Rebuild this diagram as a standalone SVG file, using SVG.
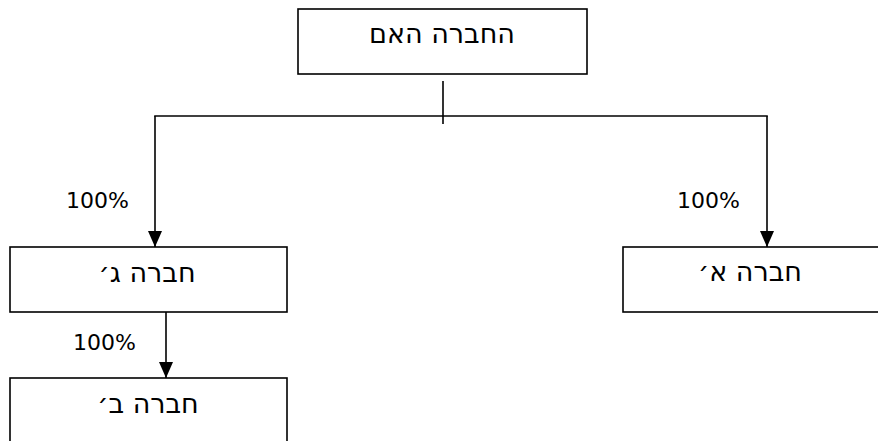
<svg xmlns="http://www.w3.org/2000/svg" width="878" height="441" viewBox="0 0 878 441">
<style>
.box{fill:#fff;stroke:#000;stroke-width:1.6}
.t{font-family:"DejaVu Sans",sans-serif;font-size:22px;fill:#000}
.he{font-family:"DejaVu Sans",sans-serif;font-size:27px;direction:rtl;text-anchor:middle;fill:#000}
.ln{fill:none;stroke:#000;stroke-width:1.6}
</style>
<defs>
<marker id="ah" markerWidth="16" markerHeight="14" refX="16" refY="7" orient="auto" markerUnits="userSpaceOnUse">
<path d="M0,0 L16,7 L0,14 Z" fill="#000"/>
</marker>
</defs>
<rect width="878" height="441" fill="#fff"/>
<g id="connectors">
<line class="ln" x1="443" y1="81" x2="443" y2="124"/>
<line class="ln" x1="154.2" y1="116" x2="767.8" y2="116"/>
<line class="ln" x1="155" y1="116" x2="155" y2="247" marker-end="url(#ah)"/>
<line class="ln" x1="767" y1="116" x2="767" y2="247" marker-end="url(#ah)"/>
<line class="ln" x1="166" y1="312" x2="166" y2="378" marker-end="url(#ah)"/>
<text class="t" x="66" y="208">100%</text>
<text class="t" x="677" y="208">100%</text>
<text class="t" x="73" y="350">100%</text>
</g>
<g id="node-parent">
<rect class="box" x="298" y="9" width="289" height="65"/>
<text class="he" x="442" y="43">החברה האם</text>
</g>
<g id="node-g">
<rect class="box" x="10" y="247" width="277" height="65"/>
<text class="he" x="147" y="282">חברה ג׳</text>
</g>
<g id="node-a">
<rect class="box" x="623" y="247" width="270" height="65"/>
<text class="he" x="750" y="281">חברה א׳</text>
</g>
<g id="node-b">
<rect class="box" x="10" y="378" width="277" height="80"/>
<text class="he" x="148" y="413">חברה ב׳</text>
</g>
</svg>
